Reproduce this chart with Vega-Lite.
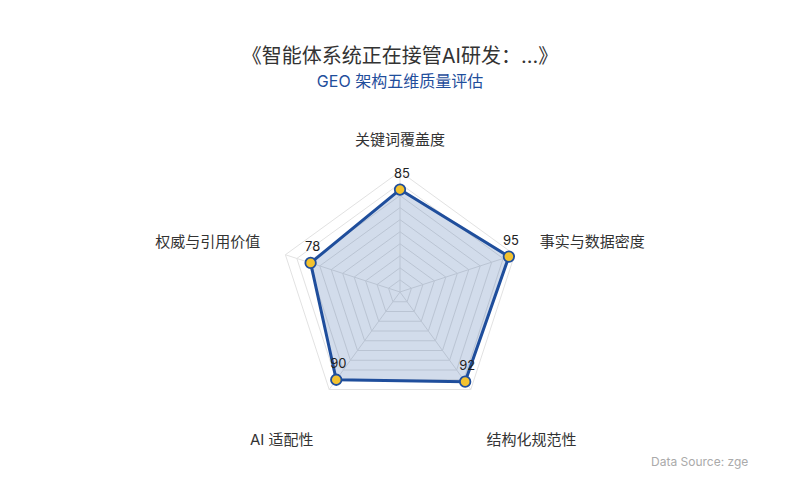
{
  "$schema": "https://vega.github.io/schema/vega-lite/v6.json",
  "width": 800,
  "height": 400,
  "autosize": "none",
  "padding": {"top": 100, "left": 0, "right": 0, "bottom": 0},
  "background": "white",
  "config": {
    "view": {"stroke": null},
    "font": "Inter, Noto Sans CJK SC, sans-serif"
  },
  "title": {
    "text": "《智能体系统正在接管AI研发：...》",
    "subtitle": "GEO 架构五维质量评估",
    "anchor": "middle",
    "frame": "group",
    "fontSize": 20,
    "fontWeight": "normal",
    "color": "#333333",
    "subtitleFontSize": 16,
    "subtitleColor": "#1f4e9c",
    "subtitlePadding": 7,
    "offset": 10
  },
  "datasets": {
    "dims": [
      {"dim": "关键词覆盖度", "value": 85, "i": 0},
      {"dim": "事实与数据密度", "value": 95, "i": 1},
      {"dim": "结构化规范性", "value": 92, "i": 2},
      {"dim": "AI 适配性", "value": 90, "i": 3},
      {"dim": "权威与引用价值", "value": 78, "i": 4}
    ],
    "rings": [
      {"level": 10, "k": [0, 1, 2, 3, 4]},
      {"level": 20, "k": [0, 1, 2, 3, 4]},
      {"level": 30, "k": [0, 1, 2, 3, 4]},
      {"level": 40, "k": [0, 1, 2, 3, 4]},
      {"level": 50, "k": [0, 1, 2, 3, 4]},
      {"level": 60, "k": [0, 1, 2, 3, 4]},
      {"level": 70, "k": [0, 1, 2, 3, 4]},
      {"level": 80, "k": [0, 1, 2, 3, 4]},
      {"level": 90, "k": [0, 1, 2, 3, 4]},
      {"level": 100, "k": [0, 1, 2, 3, 4]}
    ],
    "note": [
      {"text": "Data Source: zge"}
    ]
  },
  "layer": [
    {
      "data": {"name": "rings"},
      "transform": [
        {"flatten": ["k"]},
        {"calculate": "PI / 2 - datum.k * 2 * PI / 5", "as": "a"},
        {"calculate": "datum.level * cos(datum.a)", "as": "x"},
        {"calculate": "datum.level * sin(datum.a)", "as": "y"}
      ],
      "mark": {"type": "line", "interpolate": "linear-closed", "stroke": "#e2e2e2", "strokeWidth": 1},
      "encoding": {
        "x": {"field": "x", "type": "quantitative", "scale": {"domain": [-331.95, 331.95], "nice": false, "zero": false}, "axis": null},
        "y": {"field": "y", "type": "quantitative", "scale": {"domain": [-172.6, 159.3], "nice": false, "zero": false}, "axis": null},
        "detail": {"field": "level", "type": "nominal"},
        "order": {"field": "k", "type": "quantitative"}
      }
    },
    {
      "data": {"name": "dims"},
      "transform": [
        {"calculate": "PI / 2 - datum.i * 2 * PI / 5", "as": "a"},
        {"calculate": "100 * cos(datum.a)", "as": "x"},
        {"calculate": "100 * sin(datum.a)", "as": "y"}
      ],
      "mark": {"type": "rule", "stroke": "#e2e2e2", "strokeWidth": 1},
      "encoding": {
        "x": {"field": "x", "type": "quantitative"},
        "y": {"field": "y", "type": "quantitative"},
        "x2": {"datum": 0},
        "y2": {"datum": 0}
      }
    },
    {
      "data": {"name": "dims"},
      "transform": [
        {"calculate": "PI / 2 - datum.i * 2 * PI / 5", "as": "a"},
        {"calculate": "datum.value * cos(datum.a)", "as": "x"},
        {"calculate": "datum.value * sin(datum.a)", "as": "y"}
      ],
      "layer": [
        {
          "mark": {"type": "line", "interpolate": "linear-closed", "stroke": "#1f4e9c", "strokeWidth": 3, "fill": "#1f4e9c", "fillOpacity": 0.2, "strokeJoin": "round"},
          "encoding": {
            "x": {"field": "x", "type": "quantitative"},
            "y": {"field": "y", "type": "quantitative"},
            "order": {"field": "i", "type": "quantitative"}
          }
        },
        {
          "mark": {"type": "point", "filled": true, "fill": "#f3c22f", "stroke": "#1f4e9c", "strokeWidth": 1.8, "size": 110, "opacity": 1},
          "encoding": {
            "x": {"field": "x", "type": "quantitative"},
            "y": {"field": "y", "type": "quantitative"}
          }
        },
        {
          "mark": {"type": "text", "dy": -16, "dx": 2, "fontSize": 13, "color": "#222222"},
          "encoding": {
            "x": {"field": "x", "type": "quantitative"},
            "y": {"field": "y", "type": "quantitative"},
            "text": {"field": "value", "type": "quantitative"}
          }
        }
      ]
    },
    {
      "data": {"name": "dims"},
      "transform": [
        {"calculate": "PI / 2 - datum.i * 2 * PI / 5", "as": "a"},
        {"calculate": "122 * cos(datum.a)", "as": "lx"},
        {"calculate": "122 * sin(datum.a) + (sin(datum.a) < -0.5 ? -24 : 4)", "as": "ly"},
        {"calculate": "abs(datum.lx) < 1 ? 'c' : (datum.lx > 0 ? 'r' : 'l')", "as": "side"}
      ],
      "layer": [
        {
          "transform": [{"filter": "datum.side == 'c'"}],
          "mark": {"type": "text", "align": "center", "baseline": "middle", "fontSize": 15, "color": "#333333"},
          "encoding": {
            "x": {"field": "lx", "type": "quantitative"},
            "y": {"field": "ly", "type": "quantitative"},
            "text": {"field": "dim"}
          }
        },
        {
          "transform": [{"filter": "datum.side == 'r'"}],
          "mark": {"type": "text", "align": "left", "baseline": "middle", "fontSize": 15, "color": "#333333"},
          "encoding": {
            "x": {"field": "lx", "type": "quantitative"},
            "y": {"field": "ly", "type": "quantitative"},
            "text": {"field": "dim"}
          }
        },
        {
          "transform": [{"filter": "datum.side == 'l'"}],
          "mark": {"type": "text", "align": "right", "baseline": "middle", "fontSize": 15, "color": "#333333"},
          "encoding": {
            "x": {"field": "lx", "type": "quantitative"},
            "y": {"field": "ly", "type": "quantitative"},
            "text": {"field": "dim"}
          }
        }
      ]
    },
    {
      "data": {"name": "note"},
      "mark": {"type": "text", "align": "left", "baseline": "middle", "fontSize": 12, "color": "#aaaaaa"},
      "encoding": {
        "x": {"datum": 208.3},
        "y": {"datum": -141},
        "text": {"field": "text"}
      }
    }
  ]
}
